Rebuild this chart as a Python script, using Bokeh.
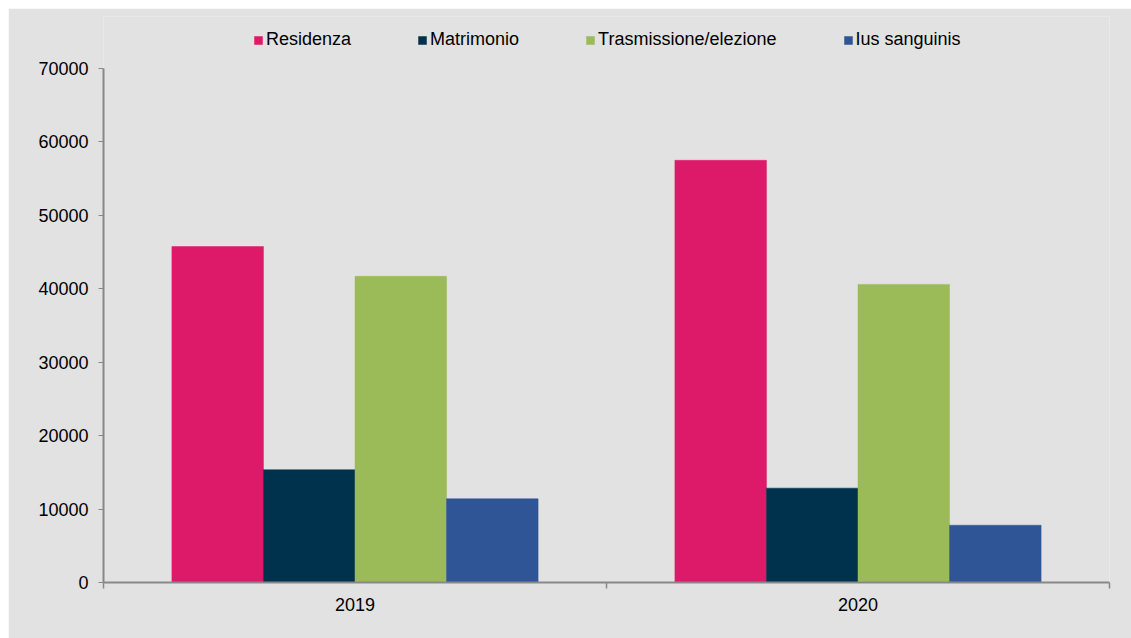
from bokeh.plotting import figure
from bokeh.models import (ColumnDataSource, FixedTicker, Legend, LegendItem,
                          NumeralTickFormatter, Range1d)
from bokeh.embed import file_html
from bokeh.resources import INLINE

years = ["2019", "2020"]
series = ["Residenza", "Matrimonio", "Trasmissione/elezione", "Ius sanguinis"]
residenza = [45750, 57500]
matrimonio = [15350, 12850]
trasmissione = [41700, 40600]
ius_sanguinis = [11400, 7800]
colors = ["#dd1a69", "#00324d", "#9bbb59", "#2f5597"]
values = [residenza, matrimonio, trasmissione, ius_sanguinis]

FONT = "Liberation Sans"
FS = "18px"
BG = "#e2e2e2"
AX = "#888888"

Y_MAX = 70000
# frame extends above the axis top so the legend sits inside the frame
frame_top_px, axis_top_px, axis_bot_px = 8, 60, 574
y_end = Y_MAX * (axis_bot_px - frame_top_px) / (axis_bot_px - axis_top_px)

p = figure(width=1123, height=630, output_backend="svg", toolbar_location=None,
           x_range=Range1d(0, len(years)), y_range=Range1d(0, y_end),
           margin=(8, 0, 0, 8))
p.min_border_left = 95
p.min_border_right = 22
p.min_border_top = frame_top_px
p.min_border_bottom = 630 - axis_bot_px
p.background_fill_color = BG
p.border_fill_color = BG
p.outline_line_color = None
p.xgrid.visible = False
p.ygrid.visible = False

bar_w = 0.182
offsets = [-1.5 * bar_w, -0.5 * bar_w, 0.5 * bar_w, 1.5 * bar_w]
centers = [i + 0.5 for i in range(len(years))]
items = []
for name, vals, col, off in zip(series, values, colors, offsets):
    src = ColumnDataSource(dict(x=[c + off for c in centers], top=vals))
    r = p.vbar(x="x", top="top", width=bar_w, source=src, fill_color=col,
               line_color=col, line_width=0.5)
    items.append(LegendItem(label=name, renderers=[r]))

# x axis: labels at category centers, ticks at category boundaries
p.xaxis.ticker = FixedTicker(ticks=centers, minor_ticks=list(range(len(years) + 1)))
p.xaxis.major_label_overrides = {c: y for c, y in zip(centers, years)}
p.xaxis.major_tick_out = 0
p.xaxis.major_tick_in = 0
p.xaxis.minor_tick_out = 6
p.xaxis.minor_tick_in = 0
p.xaxis.minor_tick_line_color = AX
p.xaxis.minor_tick_line_width = 1.5
p.xaxis.axis_line_color = AX
p.xaxis.axis_line_width = 2
p.xaxis.major_label_standoff = 9
p.xaxis.major_label_text_font = FONT
p.xaxis.major_label_text_font_size = FS
p.xaxis.major_label_text_color = "#000000"

p.yaxis.ticker = FixedTicker(ticks=list(range(0, Y_MAX + 1, 10000)))
p.yaxis.bounds = (0, Y_MAX)
p.yaxis.formatter = NumeralTickFormatter(format="0")
p.yaxis.major_tick_out = 5
p.yaxis.major_tick_in = 0
p.yaxis.minor_tick_out = 0
p.yaxis.minor_tick_in = 0
p.yaxis.major_tick_line_color = AX
p.yaxis.axis_line_color = AX
p.yaxis.axis_line_width = 2
p.yaxis.major_label_standoff = 10
p.yaxis.major_label_text_font = FONT
p.yaxis.major_label_text_font_size = FS
p.yaxis.major_label_text_color = "#000000"

legend = Legend(items=items, orientation="horizontal", location=(150, 532))
legend.glyph_width = 10
legend.glyph_height = 10
legend.label_standoff = 3
legend.spacing = 66
legend.padding = 0
legend.margin = 0
legend.border_line_color = None
legend.background_fill_alpha = 0
legend.label_text_font = FONT
legend.label_text_font_size = FS
legend.label_text_color = "#000000"
p.add_layout(legend, "center")

open("out.html", "w").write(file_html(p, INLINE))
